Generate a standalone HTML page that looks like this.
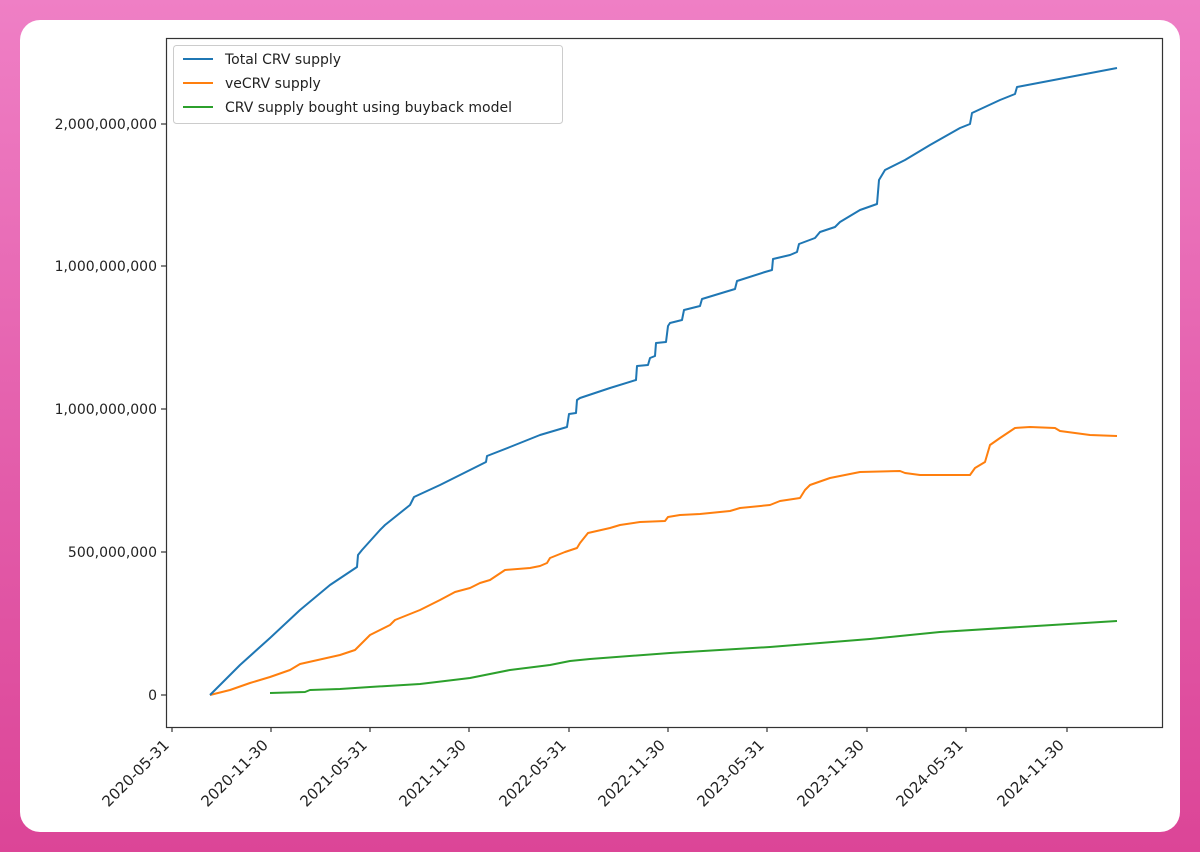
<!DOCTYPE html>
<html><head><meta charset="utf-8"><style>
html,body{margin:0;padding:0}
body{width:1200px;height:852px;background:linear-gradient(180deg,#ef7fc5 0%,#e25aa8 60%,#dc4597 100%);position:relative;overflow:hidden}
.card{position:absolute;left:20px;top:20px;width:1160px;height:812px;background:#fff;border-radius:20px}
svg{position:absolute;left:0;top:0}
text{font-family:"DejaVu Sans","Liberation Sans",sans-serif;font-size:14px;fill:#222}
.xl text{font-size:15px}
</style></head><body>
<div class="card"></div>
<svg width="1200" height="852" viewBox="0 0 1200 852">
<rect x="166.5" y="38.5" width="996" height="689" fill="none" stroke="#333" stroke-width="1.2"/>
<g stroke="#333" stroke-width="1.2">
<line x1="166" y1="695" x2="161" y2="695"/><line x1="166" y1="552" x2="161" y2="552"/>
<line x1="166" y1="409" x2="161" y2="409"/><line x1="166" y1="266" x2="161" y2="266"/>
<line x1="166" y1="124" x2="161" y2="124"/>
<line x1="172" y1="727" x2="172" y2="732"/><line x1="271" y1="727" x2="271" y2="732"/>
<line x1="370" y1="727" x2="370" y2="732"/><line x1="469" y1="727" x2="469" y2="732"/>
<line x1="569" y1="727" x2="569" y2="732"/><line x1="668" y1="727" x2="668" y2="732"/>
<line x1="767" y1="727" x2="767" y2="732"/><line x1="867" y1="727" x2="867" y2="732"/>
<line x1="966" y1="727" x2="966" y2="732"/><line x1="1067" y1="727" x2="1067" y2="732"/>
</g>
<g text-anchor="end">
<text x="157" y="700">0</text>
<text x="157" y="557">500,000,000</text>
<text x="157" y="414">1,000,000,000</text>
<text x="157" y="271">1,000,000,000</text>
<text x="157" y="129">2,000,000,000</text>
</g>
<g text-anchor="end" class="xl">
<text transform="translate(170,746) rotate(-45)">2020-05-31</text>
<text transform="translate(269,746) rotate(-45)">2020-11-30</text>
<text transform="translate(368,746) rotate(-45)">2021-05-31</text>
<text transform="translate(467,746) rotate(-45)">2021-11-30</text>
<text transform="translate(567,746) rotate(-45)">2022-05-31</text>
<text transform="translate(666,746) rotate(-45)">2022-11-30</text>
<text transform="translate(765,746) rotate(-45)">2023-05-31</text>
<text transform="translate(865,746) rotate(-45)">2023-11-30</text>
<text transform="translate(964,746) rotate(-45)">2024-05-31</text>
<text transform="translate(1065,746) rotate(-45)">2024-11-30</text>
</g>
<g fill="none" stroke-width="2" stroke-linejoin="round">
<polyline stroke="#2ca02c" points="270,693 305,692 310,690 340,689 370,687 420,684 470,678 510,670 550,665 570,661 590,659 670,653 770,647 870,639 940,632 1020,627 1117,621"/>
<polyline stroke="#ff7f0e" points="210,695 230,690 250,683 260,680 270,677 290,670 300,664 340,655 355,650 360,645 370,635 380,630 390,625 395,620 420,610 440,600 455,592 470,588 480,583 490,580 505,570 530,568 540,566 547,563 550,558 565,552 577,548 580,543 588,533 610,528 620,525 640,522 665,521 668,517 680,515 700,514 730,511 740,508 770,505 780,501 800,498 805,490 810,485 830,478 860,472 900,471 905,473 920,475 970,475 975,468 985,462 990,445 1000,438 1015,428 1030,427 1055,428 1060,431 1090,435 1117,436"/>
<polyline stroke="#1f77b4" points="210,695 240,665 270,638 300,610 330,585 357,567 358,555 362,550 380,530 385,525 410,505 414,497 440,485 460,475 470,470 486,462 487,456 510,447 540,435 567,427 569,414 576,413 577,400 580,398 610,388 636,380 637,366 648,365 650,358 655,356 656,343 666,342 668,326 670,323 682,320 684,310 700,306 702,299 725,292 735,289 737,281 765,272 772,270 773,259 790,255 797,252 799,244 815,238 820,232 835,227 840,222 860,210 877,204 879,180 885,170 905,160 930,145 960,128 970,124 972,113 1000,100 1015,94 1017,87 1117,68"/>
</g>
<rect x="173.5" y="45.5" width="389" height="78" rx="3" fill="#fff" fill-opacity="0.8" stroke="#ccc"/>
<g stroke-width="2">
<line x1="183" y1="59" x2="213" y2="59" stroke="#1f77b4"/>
<line x1="183" y1="83" x2="213" y2="83" stroke="#ff7f0e"/>
<line x1="183" y1="107" x2="213" y2="107" stroke="#2ca02c"/>
</g>
<text x="225" y="64">Total CRV supply</text>
<text x="225" y="88">veCRV supply</text>
<text x="225" y="112">CRV supply bought using buyback model</text>
</svg>
</body></html>
